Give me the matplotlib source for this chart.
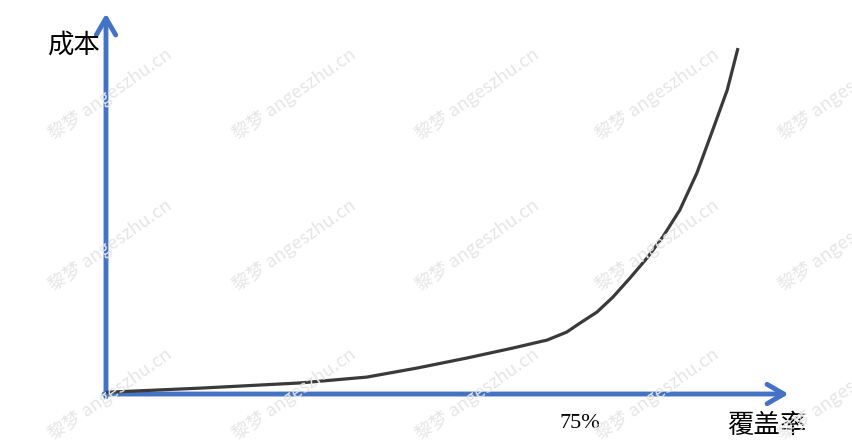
import numpy as np
import matplotlib.pyplot as plt

plt.rcParams['font.family'] = ['Noto Sans CJK SC', 'DejaVu Sans']

# 覆盖率 (%) vs 成本 (relative units)
coverage = [0, 14.9, 30.7, 41.3, 49.2, 57.1, 64.4, 69.8, 72.9, 75.0, 77.7, 80.2,
            82.9, 85.6, 88.1, 90.8, 93.5, 96.0, 98.3, 100]
cost = [0.5, 1.7, 3.2, 4.9, 7.5, 10.4, 13.3, 15.6, 17.9, 20.5, 23.7, 28.0,
        33.5, 39.3, 45.4, 53.2, 63.9, 76.3, 87.9, 100]

x_label = '覆盖率'
y_label = '成本'
mark_label = '75%'
mark_x = 75
x_end = 108
y_end = 110
watermark = '黎梦 angeszhu.cn'

blue = '#4472C4'

fig = plt.figure(figsize=(8.53, 4.42), dpi=100)
ax = fig.add_axes([0, 0, 1, 1])
ax.set_xlim(-16.77, 118.2)
ax.set_ylim(-13.87, 113.9)
ax.axis('off')

# watermarks (they run off the right edge, as in the original)
for wx in [110, 294, 477, 657, 840]:
    for wy in [94, 245, 394]:
        fig.text(wx / 853, 1 - wy / 442, watermark, color='#e6e6e6', fontsize=13,
                 rotation=35, ha='center', va='center', zorder=0)

# axes with arrows
arrow = dict(arrowstyle='->,head_length=1.2,head_width=0.7', lw=3.5, color=blue,
             shrinkA=0, shrinkB=0)
ax.annotate('', xy=(0, y_end), xytext=(0, -0.8), arrowprops=arrow, zorder=2)
ax.annotate('', xy=(x_end, 0), xytext=(-0.3, 0), arrowprops=arrow, zorder=2)

ax.plot(coverage, cost, color='#3a3a3a', lw=2.3, solid_capstyle='butt',
        solid_joinstyle='round', zorder=3)

ax.text(-5.2, 101, y_label, fontsize=19, ha='center', va='center')
ax.text(104.5, -9, x_label, fontsize=19, ha='center', va='center')
ax.text(mark_x, -8.4, mark_label, fontsize=16, ha='center', va='center',
        family='Liberation Serif')

fig.savefig('out.png', dpi=100)
